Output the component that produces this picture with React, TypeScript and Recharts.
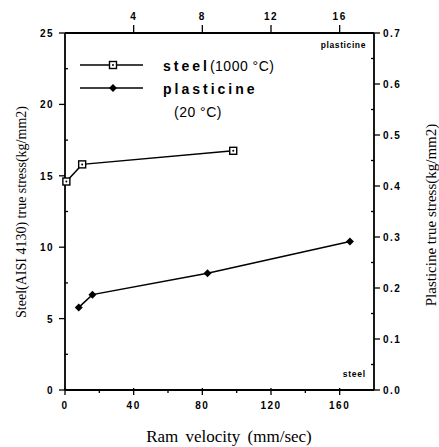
import React from "react";
import { ScatterChart, Scatter, XAxis, YAxis } from "recharts";

// steel: bottom velocity axis (mm/sec), left stress axis (kg/mm2)
const steelVelocity = [0.8, 10, 98];
const steelStress = [14.6, 15.8, 16.75];

// plasticine: top velocity axis, right stress axis
const plasticineVelocity = [0.8, 1.6, 8.3, 16.6];
const plasticineStress = [0.162, 0.187, 0.229, 0.291];

const bottomTicks = [0, 20, 40, 60, 80, 100, 120, 140, 160];
const bottomLabels = [0, 40, 80, 120, 160];
const topTicks = [4, 8, 12, 16];
const leftTicks = [0, 2.5, 5, 7.5, 10, 12.5, 15, 17.5, 20, 22.5, 25];
const leftLabels = [0, 5, 10, 15, 20, 25];
const rightTicks = [0, 0.05, 0.1, 0.15, 0.2, 0.25, 0.3, 0.35, 0.4, 0.45, 0.5, 0.55, 0.6, 0.65, 0.7];
const rightLabels = [0, 0.1, 0.2, 0.3, 0.4, 0.5, 0.6, 0.7];

const steelData = steelVelocity.map((x, i) => ({ x, y: steelStress[i] }));
const plasticineData = plasticineVelocity.map((x, i) => ({ x, y: plasticineStress[i] }));

const tickFont = {
  fontFamily: "Arial, 'Liberation Sans', sans-serif",
  fontWeight: 700,
  fontSize: 10,
  letterSpacing: 1.5,
  fill: "#000",
};

const near = (list: number[], v: number) => list.some((l) => Math.abs(l - v) < 1e-6);

const BottomTick = ({ x, y, payload }: any) => {
  const major = near(bottomLabels, payload.value);
  return (
    <g>
      <line x1={x} x2={x} y1={y - (major ? 2 : 0)} y2={y + (major ? 5 : 3)} stroke="#000" strokeWidth={1.3} />
      {major && (
        <text x={x} y={y + 19} textAnchor="middle" style={tickFont}>
          {payload.value}
        </text>
      )}
    </g>
  );
};

const TopTick = ({ x, y, payload }: any) => (
  <g>
    <line x1={x} x2={x} y1={y} y2={y - 8} stroke="#000" strokeWidth={1.3} />
    <text x={x} y={y - 13} textAnchor="middle" style={tickFont}>
      {payload.value}
    </text>
  </g>
);

const LeftTick = ({ x, y, payload }: any) => {
  const major = near(leftLabels, payload.value);
  return (
    <g>
      <line x1={major ? x - 6 : x} x2={major ? x : x + 3} y1={y} y2={y} stroke="#000" strokeWidth={1.3} />
      {major && (
        <text x={x - 11} y={y + 4} textAnchor="end" style={tickFont}>
          {payload.value}
        </text>
      )}
    </g>
  );
};

const RightTick = ({ x, y, payload }: any) => {
  const major = near(rightLabels, payload.value);
  return (
    <g>
      <line x1={major ? x : x - 3} x2={major ? x + 6 : x} y1={y} y2={y} stroke="#000" strokeWidth={1.3} />
      {major && (
        <text x={x + 9} y={y + 4} textAnchor="start" style={tickFont}>
          {payload.value.toFixed(1)}
        </text>
      )}
    </g>
  );
};

const SquareDot = ({ cx, cy }: any) => (
  <g>
    <rect x={cx - 3.5} y={cy - 3.5} width={7} height={7} fill="#fff" stroke="#000" strokeWidth={1.4} />
    <circle cx={cx} cy={cy} r={1} fill="#000" />
  </g>
);

const DiamondDot = ({ cx, cy }: any) => (
  <path d={`M${cx},${cy - 4}L${cx + 4},${cy}L${cx},${cy + 4}L${cx - 4},${cy}Z`} fill="#000" />
);

const serif = "'Liberation Serif', 'DejaVu Serif', serif";
const legendBold = {
  fontFamily: "Arial, 'Liberation Sans', sans-serif",
  fontWeight: 700,
  fontSize: 14,
  letterSpacing: 3,
};

export default function App() {
  return (
    <div style={{ position: "absolute", left: 0, top: 0, width: 439, height: 447, background: "#fff" }}>
      <ScatterChart width={439} height={447} margin={{ top: 0, right: 0, bottom: 0, left: 0 }}>
        <XAxis
          xAxisId="bottom"
          dataKey="x"
          type="number"
          domain={[0, 180]}
          ticks={bottomTicks}
          height={57}
          tickSize={0}
          tickMargin={0}
          tickLine={false}
          tick={<BottomTick />}
          axisLine={{ stroke: "#000", strokeWidth: 1.8 }}
          interval={0}
        />
        <XAxis
          xAxisId="top"
          orientation="top"
          dataKey="x"
          type="number"
          domain={[0, 18]}
          ticks={topTicks}
          height={33}
          tickSize={0}
          tickMargin={0}
          tickLine={false}
          tick={<TopTick />}
          axisLine={{ stroke: "#000", strokeWidth: 1.8 }}
          interval={0}
        />
        <YAxis
          yAxisId="left"
          dataKey="y"
          type="number"
          domain={[0, 25]}
          ticks={leftTicks}
          width={65}
          tickSize={0}
          tickMargin={0}
          tickLine={false}
          tick={<LeftTick />}
          axisLine={{ stroke: "#000", strokeWidth: 1.8 }}
          interval={0}
        />
        <YAxis
          yAxisId="right"
          orientation="right"
          dataKey="y"
          type="number"
          domain={[0, 0.7]}
          ticks={rightTicks}
          width={65}
          tickSize={0}
          tickMargin={0}
          tickLine={false}
          tick={<RightTick />}
          axisLine={{ stroke: "#000", strokeWidth: 1.8 }}
          interval={0}
        />
        <Scatter
          name="steel"
          data={steelData}
          xAxisId="bottom"
          yAxisId="left"
          line={{ stroke: "#000", strokeWidth: 1.5 }}
          shape={<SquareDot />}
          isAnimationActive={false}
        />
        <Scatter
          name="plasticine"
          data={plasticineData}
          xAxisId="top"
          yAxisId="right"
          line={{ stroke: "#000", strokeWidth: 1.5 }}
          shape={<DiamondDot />}
          isAnimationActive={false}
        />
      </ScatterChart>
      <svg
        width={439}
        height={447}
        style={{ position: "absolute", left: 0, top: 0, pointerEvents: "none" }}
      >
        {/* legend */}
        <line x1={80} x2={143} y1={65} y2={65} stroke="#000" strokeWidth={1.5} />
        <rect x={109.5} y={61.5} width={7} height={7} fill="#fff" stroke="#000" strokeWidth={1.4} />
        <circle cx={113} cy={65} r={1} fill="#000" />
        <line x1={80} x2={143} y1={88} y2={88} stroke="#000" strokeWidth={1.5} />
        <path d="M113,84L117,88L113,92L109,88Z" fill="#000" />
        <text x={163} y={71} style={legendBold}>
          steel
          <tspan style={{ fontWeight: 400, letterSpacing: 0.5 }}>(1000 °C)</tspan>
        </text>
        <text x={163} y={94} style={legendBold}>
          plasticine
        </text>
        <text x={174} y={117} style={{ fontFamily: "Arial, 'Liberation Sans', sans-serif", fontSize: 14, letterSpacing: 0.5 }}>
          (20 °C)
        </text>
        {/* axis annotations */}
        <text x={366} y={48} textAnchor="end" style={{ ...tickFont, fontSize: 8.5, letterSpacing: 0.6 }}>
          plasticine
        </text>
        <text x={366} y={377} textAnchor="end" style={{ ...tickFont, fontSize: 8.5, letterSpacing: 0.8 }}>
          steel
        </text>
        {/* axis titles */}
        <text
          transform="translate(26,212) rotate(-90)"
          textAnchor="middle"
          style={{ fontFamily: serif, fontSize: 14 }}
        >
          Steel(AISI 4130) true stress(kg/mm2)
        </text>
        <text
          transform="translate(436,215) rotate(-90)"
          textAnchor="middle"
          style={{ fontFamily: serif, fontSize: 15 }}
        >
          Plasticine true stress(kg/mm2)
        </text>
        <text x={229} y={442} textAnchor="middle" style={{ fontFamily: serif, fontSize: 17, wordSpacing: 3 }}>
          Ram velocity (mm/sec)
        </text>
      </svg>
    </div>
  );
}
